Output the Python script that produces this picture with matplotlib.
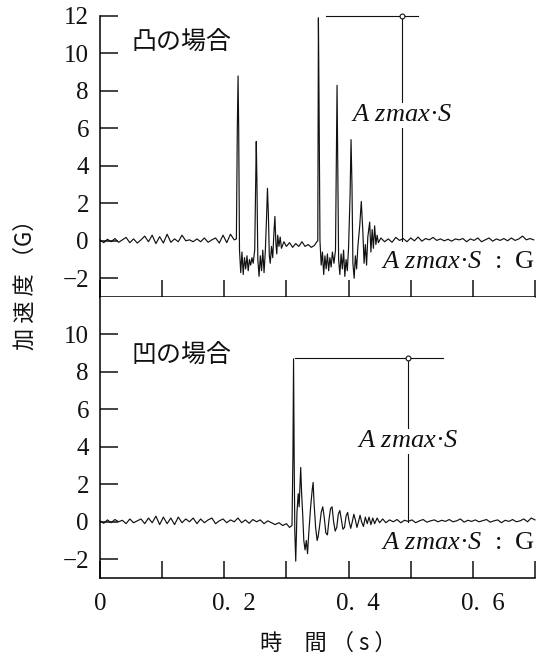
import numpy as np
import matplotlib.pyplot as plt
from matplotlib.transforms import ScaledTranslation

# Acceleration traces (time [s], accel [G])

top_trace = [
    # quiet part before the first bump
    (0.000, 0.05), (0.006, -0.10), (0.012, 0.08), (0.018, -0.05), (0.024, 0.12),
    (0.030, -0.08), (0.036, 0.05), (0.042, 0.18), (0.048, -0.10), (0.054, 0.10),
    (0.060, -0.12), (0.066, 0.05), (0.072, 0.25), (0.078, -0.05), (0.084, 0.30),
    (0.090, -0.15), (0.096, 0.22), (0.102, -0.12), (0.108, 0.35), (0.114, -0.08),
    (0.120, 0.10), (0.126, -0.05), (0.132, 0.30), (0.138, 0.00), (0.144, 0.05),
    (0.150, -0.05), (0.156, 0.10), (0.162, -0.05), (0.168, 0.15), (0.174, -0.08),
    (0.180, 0.05), (0.186, 0.15), (0.192, -0.12), (0.198, 0.30), (0.204, -0.10),
    (0.210, 0.35), (0.216, 0.05),
    # first bump (front wheel)
    (0.2195, 0.10), (0.2210, 6.0), (0.2222, 8.8), (0.2232, 6.0), (0.2245, -0.5),
    (0.2265, -1.7), (0.2285, -0.6), (0.2305, -1.8), (0.2325, -0.9), (0.2345, -1.5),
    (0.2365, -0.8), (0.2385, -1.6), (0.2405, -1.0), (0.2425, -1.3), (0.2445, -0.9),
    (0.2465, -1.2), (0.2490, -0.5), (0.2505, 3.0), (0.2515, 5.3), (0.2525, 3.3),
    (0.2540, -1.0), (0.2560, -1.9), (0.2580, -0.8), (0.2600, -1.6), (0.2620, -0.5),
    (0.2640, -1.7), (0.2660, -0.6), (0.2680, 1.2), (0.2695, 2.8), (0.2710, 1.4),
    (0.2725, -0.8), (0.2740, -1.2), (0.2760, -0.3), (0.2780, -0.9), (0.2800, 0.5),
    (0.2815, 1.3), (0.2830, -0.1), (0.2845, -0.7), (0.2860, 0.3), (0.2880, -0.3),
    (0.2900, 0.2), (0.2920, -0.4),
    (0.296, -0.05), (0.300, -0.30), (0.305, -0.10), (0.310, -0.35), (0.315, -0.15),
    (0.320, -0.30), (0.325, -0.05), (0.330, -0.30), (0.335, -0.20), (0.340, -0.35),
    (0.345, -0.25), (0.349, -0.05),
    # second bump (rear wheel)
    (0.3505, 0.0), (0.3515, 11.9), (0.3525, 7.5), (0.3540, 0.0), (0.3560, -1.3),
    (0.3580, -0.6), (0.3600, -1.8), (0.3620, -0.8), (0.3640, -1.5), (0.3660, -0.7),
    (0.3680, -1.6), (0.3700, -0.9), (0.3720, -1.4), (0.3740, -0.6), (0.3765, -1.2),
    (0.3790, -0.5), (0.3805, 5.0), (0.3815, 8.3), (0.3825, 4.5), (0.3840, -1.0),
    (0.3860, -1.8), (0.3880, -0.7), (0.3900, -1.5), (0.3920, -0.5), (0.3940, -1.9),
    (0.3960, -1.0), (0.3980, -1.6), (0.4000, -0.4), (0.4025, 2.5), (0.4040, 5.4),
    (0.4055, 3.0), (0.4070, -1.2), (0.4090, -2.0), (0.4110, -0.8), (0.4130, -1.5),
    (0.4150, -0.3), (0.4180, 0.8), (0.4205, 2.1), (0.4230, 0.5), (0.4250, -1.2),
    (0.4270, -0.2), (0.4290, -1.3), (0.4310, 0.2), (0.4340, 1.0), (0.4360, -0.6),
    (0.4380, 0.6), (0.4400, -0.4), (0.4420, 0.8), (0.4440, -0.2), (0.4460, 0.3),
    (0.4480, -0.1),
    # settled tail
    (0.452, 0.15), (0.458, -0.05), (0.464, 0.10), (0.470, -0.08), (0.476, 0.18),
    (0.482, 0.02), (0.488, 0.12), (0.494, -0.05), (0.500, 0.15), (0.506, 0.00),
    (0.512, 0.20), (0.518, -0.02), (0.524, 0.12), (0.530, 0.05), (0.536, 0.18),
    (0.542, 0.02), (0.548, 0.10), (0.554, 0.00), (0.560, 0.08), (0.566, -0.02),
    (0.572, 0.10), (0.578, 0.05), (0.584, 0.12), (0.590, -0.05), (0.596, 0.10),
    (0.602, 0.02), (0.608, 0.15), (0.614, -0.05), (0.620, 0.05), (0.626, 0.15),
    (0.632, -0.02), (0.638, 0.10), (0.644, 0.02), (0.650, 0.12), (0.656, 0.00),
    (0.662, 0.15), (0.668, 0.02), (0.674, 0.10), (0.680, 0.25), (0.686, 0.05),
    (0.692, 0.12), (0.698, 0.05),
]

bottom_trace = [
    (0.000, 0.05), (0.006, -0.08), (0.012, 0.10), (0.018, -0.05), (0.024, 0.12),
    (0.030, 0.00), (0.036, 0.08), (0.042, -0.10), (0.048, 0.15), (0.054, -0.05),
    (0.060, 0.05), (0.066, 0.15), (0.072, -0.10), (0.078, 0.20), (0.084, -0.05),
    (0.090, 0.30), (0.096, -0.15), (0.102, 0.25), (0.108, -0.10), (0.114, 0.20),
    (0.120, -0.15), (0.126, 0.25), (0.132, -0.05), (0.138, 0.15), (0.144, 0.00),
    (0.150, 0.20), (0.156, -0.10), (0.162, 0.15), (0.168, -0.05), (0.174, 0.10),
    (0.180, 0.20), (0.186, -0.10), (0.192, 0.05), (0.198, 0.15), (0.204, -0.05),
    (0.210, 0.10), (0.216, 0.00), (0.222, 0.20), (0.228, -0.05), (0.234, 0.10),
    (0.240, -0.08), (0.246, 0.12), (0.252, 0.00), (0.258, 0.10), (0.264, -0.10),
    (0.270, 0.05), (0.276, -0.05), (0.282, -0.15), (0.288, -0.05), (0.294, -0.20),
    (0.300, -0.10), (0.305, -0.30),
    # dip (hole) hit and ringing
    (0.3090, -0.20), (0.3105, 3.5), (0.3115, 8.7), (0.3125, 3.4), (0.3135, -0.5),
    (0.3150, -2.1), (0.3170, 0.5), (0.3190, 1.5), (0.3205, 0.8), (0.3220, 2.0),
    (0.3230, 2.9), (0.3245, 1.5), (0.3265, 0.2), (0.3280, -1.0), (0.3300, -1.5),
    (0.3320, -1.0), (0.3340, -1.7), (0.3360, -0.6), (0.3390, 0.8), (0.3415, 1.7),
    (0.3430, 2.1), (0.3445, 1.0), (0.3470, -0.3), (0.3495, -1.0), (0.3510, -0.8),
    (0.3535, -0.2), (0.3560, 0.5), (0.3585, 0.8), (0.3610, 0.2), (0.3635, -0.6),
    (0.3660, -0.7), (0.3685, 0.1), (0.3710, 0.7), (0.3735, 0.8), (0.3760, 0.0),
    (0.3785, -0.5), (0.3810, -0.3), (0.3835, 0.4), (0.3860, 0.6), (0.3885, 0.1),
    (0.3910, -0.4), (0.3935, -0.3), (0.3960, 0.3), (0.3985, 0.5), (0.4010, 0.0),
    (0.4035, -0.35), (0.4060, 0.0), (0.4085, 0.4), (0.4110, 0.1), (0.4135, -0.3),
    (0.4160, 0.0), (0.4185, 0.35), (0.4210, 0.0), (0.4240, -0.25), (0.4270, 0.25),
    (0.4300, -0.10), (0.4330, 0.25), (0.4360, -0.15), (0.4390, 0.20), (0.4420, -0.10),
    (0.4460, 0.20), (0.4500, -0.05), (0.4550, 0.15),
    (0.460, -0.05), (0.466, 0.10), (0.472, 0.00), (0.478, 0.12), (0.484, -0.05),
    (0.490, 0.08), (0.496, 0.02), (0.502, 0.10), (0.508, -0.05), (0.514, 0.05),
    (0.520, 0.12), (0.526, -0.02), (0.532, 0.05), (0.538, 0.10), (0.544, 0.00),
    (0.550, 0.08), (0.556, 0.02), (0.562, 0.12), (0.568, 0.00), (0.574, 0.05),
    (0.580, 0.15), (0.586, -0.02), (0.592, 0.08), (0.598, 0.02), (0.604, 0.10),
    (0.610, 0.00), (0.616, 0.06), (0.622, 0.12), (0.628, -0.02), (0.634, 0.05),
    (0.640, 0.10), (0.646, -0.05), (0.652, 0.08), (0.658, 0.02), (0.664, 0.12),
    (0.670, 0.00), (0.676, 0.05), (0.682, 0.15), (0.688, 0.00), (0.694, 0.20),
    (0.700, 0.10),
]

# peak-level markers: (level [G], bar start, bar end, marker time, label height)
top_peak = (12.0, 0.364, 0.512, 0.486, 6.7)
bottom_peak = (8.75, 0.314, 0.552, 0.496, 4.3)

panel_titles = ["凸の場合", "凹の場合"]
title_y = [10.55, 8.85]
x_ticks = [0.0, 0.1, 0.2, 0.3, 0.4, 0.5, 0.6, 0.7]
x_tick_labels = ["0", "", "0.  2", "", "0.  4", "", "0.  6", ""]

#######################################################################
# Styling
#######################################################################

plt.rcParams['font.family'] = ['Liberation Serif', 'Noto Sans CJK JP', 'DejaVu Sans']
plt.rcParams['mathtext.fontset'] = 'custom'
plt.rcParams['mathtext.rm'] = 'Liberation Serif'
plt.rcParams['mathtext.it'] = 'Liberation Serif:italic'

CJK = ['Noto Sans CJK JP', 'DejaVu Sans']
INK = '#111111'

fig = plt.figure(figsize=(5.44, 6.61), dpi=100)
ax_top = fig.add_axes([0.1838, 0.5507, 0.7996, 0.4251])
ax_bot = fig.add_axes([0.1838, 0.1256, 0.7996, 0.4251])

panels = [(ax_top, top_trace, top_peak, [-2, 0, 2, 4, 6, 8, 10, 12]),
          (ax_bot, bottom_trace, bottom_peak, [-2, 0, 2, 4, 6, 8, 10])]

for i, (ax, trace, peak, yticks) in enumerate(panels):
    data = np.array(trace)
    ax.plot(data[:, 0], data[:, 1], color=INK, lw=0.85, clip_on=False)

    level, bar_start, bar_end, mark_t, label_y = peak
    ax.plot([bar_start, bar_end], [level, level], color=INK, lw=0.8, clip_on=False)
    ax.plot([mark_t, mark_t], [level, 0.0], color=INK, lw=0.8, clip_on=False)
    ax.plot([mark_t], [level], marker='o', ms=3.5, mfc='white', mec=INK, mew=0.8,
            clip_on=False)
    ax.text(mark_t, label_y, "$A\\ zmax$·$S$", fontsize=19, ha='center', va='center',
            color=INK, bbox=dict(facecolor='white', edgecolor='none', pad=1))
    ax.text(0.70, -1.15, "$A\\ zmax$·$S$  :  G", fontsize=19, ha='right', va='center',
            color=INK)

    ax.text(0.050, title_y[i], panel_titles[i], family=CJK,
            fontsize=18, ha='left', va='center', color=INK)

    ax.set_xlim(0, 0.7)
    ax.set_ylim(-3, 12)
    ax.spines['top'].set_visible(False)
    ax.spines['right'].set_visible(False)
    ax.spines['left'].set_linewidth(1.1)
    ax.spines['bottom'].set_linewidth(1.1)

    ax.set_yticks(yticks)
    ax.set_xticks(x_ticks)
    ax.tick_params(axis='y', direction='in', length=13, width=1.1, pad=8,
                   labelsize=18, colors=INK)
    ax.tick_params(axis='x', direction='in', length=12, width=1.1, pad=11,
                   labelsize=18, colors=INK)

ax_top.set_xticklabels([])
ax_bot.set_xticklabels(x_tick_labels)

# decimal labels sit with the point on the tick, as in the original
shift = ScaledTranslation(7 / 72, 0, fig.dpi_scale_trans)
for lab in ax_bot.get_xticklabels():
    if lab.get_text() not in ("", "0"):
        lab.set_transform(lab.get_transform() + shift)

fig.text(0.046, 0.578, "加 速 度 （G）", family=CJK, fontsize=16, rotation=90,
         ha='center', va='center', color=INK)
fig.text(0.603, 0.027, "時　間 （ s ）", family=CJK, fontsize=16,
         ha='center', va='center', color=INK)

fig.savefig("out.png", dpi=100)
